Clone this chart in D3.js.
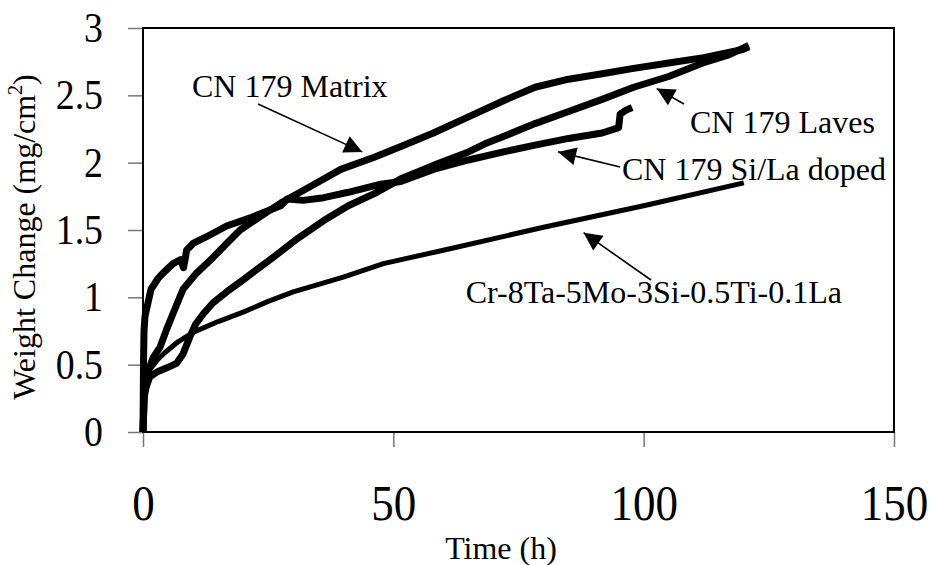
<!DOCTYPE html>
<html>
<head>
<meta charset="utf-8">
<script src="https://cdn.jsdelivr.net/npm/d3@7"></script>
<style>
  html, body { margin: 0; padding: 0; background: #fff; }
  svg { display: block; font-family: "Liberation Serif", "Times New Roman", serif; }
</style>
</head>
<body>
<svg id="chart" width="929" height="565"></svg>
<script>
// ---- data (time in h, weight change in mg/cm^2) ----
const matrixT = [0, 0.3, 1, 2, 3.4, 4.7, 6, 8, 10.7, 14.1, 16.7, 19.4, 23.4, 27.5, 32.8, 39.5, 46.2, 51.5, 58, 65, 72, 78.3, 85, 91.7, 98, 105, 112, 119.8, 121];
const matrixW = [0, 0.3, 0.45, 0.55, 0.63, 0.76, 0.88, 1.06, 1.18, 1.30, 1.40, 1.50, 1.60, 1.70, 1.81, 1.95, 2.04, 2.12, 2.22, 2.34, 2.46, 2.56, 2.62, 2.66, 2.70, 2.74, 2.78, 2.84, 2.86];

const lavesT = [0, 0.2, 0.6, 1.35, 3, 5, 6.7, 8, 9.4, 10.5, 12.1, 14, 16.7, 20, 26.1, 31, 36.1, 41, 46.2, 51.5, 58, 65, 68.3, 73, 78.3, 85, 91.7, 98, 105, 111.8, 117, 121];
const lavesW = [0, 0.25, 0.33, 0.41, 0.45, 0.48, 0.51, 0.58, 0.71, 0.80, 0.88, 0.96, 1.04, 1.13, 1.30, 1.44, 1.57, 1.68, 1.77, 1.88, 1.98, 2.08, 2.14, 2.21, 2.29, 2.38, 2.47, 2.56, 2.64, 2.74, 2.80, 2.87];

const siLaT = [0, 0.1, 0.2, 0.4, 1.6, 3, 4, 6, 7.5, 8.1, 8.5, 8.7, 10, 12.7, 16.7, 21.4, 27.5, 28.8, 32, 36.1, 41, 47.5, 51.5, 58, 65, 72, 78.3, 85, 91.7, 95, 95.3, 96.5, 97.7];
const siLaW = [0, 0.5, 0.75, 0.86, 1.06, 1.14, 1.18, 1.25, 1.28, 1.22, 1.30, 1.35, 1.40, 1.45, 1.53, 1.59, 1.68, 1.73, 1.72, 1.74, 1.78, 1.84, 1.86, 1.95, 2.02, 2.08, 2.13, 2.18, 2.22, 2.26, 2.36, 2.39, 2.41];

const crT = [0, 0.2, 0.6, 1.5, 3, 4.4, 7, 10, 15, 20, 25, 30, 40, 48, 60, 80, 100, 120];
const crW = [0, 0.3, 0.4, 0.47, 0.54, 0.59, 0.67, 0.74, 0.82, 0.89, 0.97, 1.04, 1.15, 1.25, 1.35, 1.52, 1.68, 1.85];

const xTicks = [0, 50, 100, 150];
const yTicks = [0, 0.5, 1, 1.5, 2, 2.5, 3];
const yTickLabels = ["0", "0.5", "1", "1.5", "2", "2.5", "3"];
const xTitle = "Time (h)";
const yTitle = "Weight Change (mg/cm";
const seriesNames = ["CN 179 Matrix", "CN 179 Laves", "CN 179 Si/La doped", "Cr-8Ta-5Mo-3Si-0.5Ti-0.1La"];

// ---- layout ----
const svg = d3.select("#chart");
const x = d3.scaleLinear().domain([0, 150]).range([143, 894]);
const y = d3.scaleLinear().domain([0, 3]).range([432, 28]);

// y axis
const ySX = 0.9;
const yAxis = d3.axisLeft(y).tickValues(yTicks).tickSize(15).tickPadding(25)
  .tickFormat((d, i) => yTickLabels[i]);
const gy = svg.append("g").attr("transform", `translate(${x(0)},0)`).call(yAxis);
gy.select(".domain").remove();
gy.selectAll(".tick line").attr("stroke", "#777").attr("stroke-width", 1.5);
gy.selectAll(".tick text")
  .attr("font-size", 42).attr("font-family", "Liberation Serif").attr("fill", "#000")
  .attr("x", -40 / ySX).attr("transform", `scale(${ySX},1)`);

// x axis
const xSX = 0.9;
const xAxis = d3.axisBottom(x).tickValues(xTicks).tickSize(15).tickPadding(38);
const gx = svg.append("g").attr("transform", `translate(0,${y(0)})`).call(xAxis);
gx.select(".domain").remove();
gx.selectAll(".tick line").attr("stroke", "#777").attr("stroke-width", 1.5);
gx.selectAll(".tick text")
  .attr("font-size", 50).attr("font-family", "Liberation Serif").attr("fill", "#000")
  .attr("transform", `scale(${xSX},1)`);

// frame
svg.append("rect")
  .attr("x", x(0)).attr("y", y(3))
  .attr("width", x(150) - x(0)).attr("height", y(0) - y(3))
  .attr("fill", "none").attr("stroke", "#000").attr("stroke-width", 2);

// series
const line = d3.line().x(d => x(d[0])).y(d => y(d[1])).curve(d3.curveLinear);
function draw(T, W, width) {
  svg.append("path")
    .datum(T.map((t, i) => [t, W[i]]))
    .attr("d", line)
    .attr("fill", "none").attr("stroke", "#000")
    .attr("stroke-width", width)
    .attr("stroke-linejoin", "round").attr("stroke-linecap", "butt");
}
draw(crT, crW, 5);
draw(lavesT, lavesW, 7);
draw(matrixT, matrixW, 7);
draw(siLaT, siLaW, 7);

// arrow marker
svg.append("defs").append("marker")
  .attr("id", "arr").attr("viewBox", "0 0 10 10")
  .attr("refX", 10).attr("refY", 5)
  .attr("markerWidth", 20).attr("markerHeight", 18)
  .attr("markerUnits", "userSpaceOnUse")
  .attr("orient", "auto")
  .append("path").attr("d", "M0,0 L10,5 L0,10 z").attr("fill", "#000");

// annotations
const notes = [
  { name: seriesNames[0], tx: 192, ty: 97, anchor: "start", x1: 258, y1: 104, tipT: 43.8, tipW: 2.08 },
  { name: seriesNames[1], tx: 690, ty: 133, anchor: "start", x1: 684, y1: 104, tipT: 102.6, tipW: 2.55 },
  { name: seriesNames[2], tx: 622, ty: 180, anchor: "start", x1: 620, y1: 167, tipT: 82.9, tipW: 2.08 },
  { name: seriesNames[3], tx: 842, ty: 303, anchor: "end", x1: 651, y1: 280, tipT: 88.0, tipW: 1.48 }
];
notes.forEach(n => {
  svg.append("line")
    .attr("x1", n.x1).attr("y1", n.y1)
    .attr("x2", x(n.tipT)).attr("y2", y(n.tipW))
    .attr("stroke", "#000").attr("stroke-width", 1.6)
    .attr("marker-end", "url(#arr)");
  svg.append("text")
    .attr("x", n.tx).attr("y", n.ty)
    .attr("text-anchor", n.anchor)
    .attr("font-size", 32).attr("fill", "#000")
    .text(n.name);
});

// axis titles
svg.append("text")
  .attr("x", 501).attr("y", 559)
  .attr("text-anchor", "middle").attr("font-size", 32).attr("fill", "#000")
  .text(xTitle);

const yt = svg.append("text")
  .attr("transform", `translate(35,237) rotate(-90)`)
  .attr("text-anchor", "middle").attr("font-size", 32).attr("fill", "#000");
yt.append("tspan").text(yTitle);
yt.append("tspan").attr("font-size", 20).attr("dy", -13).text("2");
yt.append("tspan").attr("dy", 13).text(")");
</script>
</body>
</html>
